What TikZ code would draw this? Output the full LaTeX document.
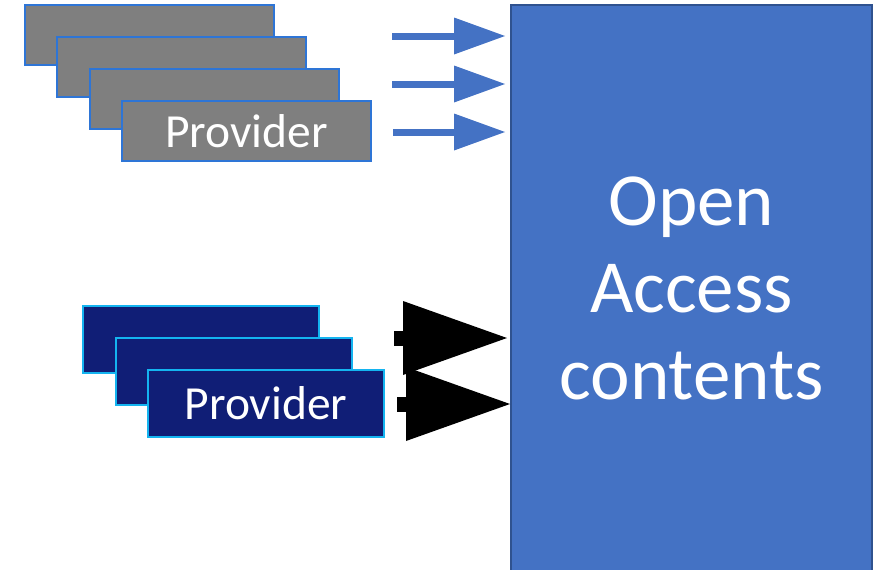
\documentclass[tikz,border=0pt]{standalone}
\usepackage{fontspec}
\setmainfont{Carlito}
\usetikzlibrary{arrows.meta}
\definecolor{grayfill}{RGB}{127,127,127}
\definecolor{grayedge}{RGB}{46,117,214}
\definecolor{navyfill}{RGB}{16,30,118}
\definecolor{navyedge}{RGB}{20,180,240}
\definecolor{bigfill}{RGB}{68,114,196}
\definecolor{bigedge}{RGB}{47,82,143}
\tikzset{
  graybox/.style={draw=grayedge, fill=grayfill, line width=2pt, minimum width=249pt, minimum height=60pt, anchor=north west, inner sep=0pt, text=white, font=\fontsize{47.5}{50}\selectfont},
  navybox/.style={draw=navyedge, fill=navyfill, line width=2pt, minimum width=236pt, minimum height=67pt, anchor=north west, inner sep=0pt, text=white, font=\fontsize{47.5}{50}\selectfont},
  bigbox/.style={draw=bigedge, fill=bigfill, line width=2pt, minimum width=361pt, minimum height=566pt, anchor=north west, inner sep=0pt, text=white, align=center, font=\fontsize{75}{87}\selectfont},
  bluearrow/.style={draw=bigfill, line width=7pt, -{Triangle[length=51pt, width=37pt, line width=0pt]}},
  blackarrow/.style={draw=black, line width=15pt, -{Triangle[length=104pt, width=74pt, line width=0pt]}}
}
\begin{document}
\begin{tikzpicture}[x=1pt, y=-1pt]
\useasboundingbox (0,0) rectangle (879,570);
% gray stack
\node[graybox] (g1) at (24,4) {};
\node[graybox] (g2) at (56,36) {};
\node[graybox] (g3) at (89,68) {};
\node[graybox] (g4) at (121,100) {\raisebox{-2pt}{Provider}};
% navy stack
\node[navybox] (n1) at (82,305) {};
\node[navybox] (n2) at (115,337) {};
\node[navybox] (n3) at (147,369) {\raisebox{-2pt}{Provider}};
% big box
\node[bigbox] (big) at (510,4) {\raisebox{-10pt}{\parbox{361pt}{\centering Open\\Access\\contents}}};
% arrow coordinates
\coordinate (a1) at (392,36);
\coordinate (a2) at (392,84);
\coordinate (a3) at (393,132);
\coordinate (b1) at (394,338);
\coordinate (b2) at (397,404);
\draw[bluearrow, shorten >=5pt] (a1) -- (a1 -| big.west);
\draw[bluearrow, shorten >=5pt] (a2) -- (a2 -| big.west);
\draw[bluearrow, shorten >=5pt] (a3) -- (a3 -| big.west);
\draw[blackarrow, shorten >=3pt] (b1) -- (b1 -| big.west);
\draw[blackarrow] (b2) -- (b2 -| big.west);
\end{tikzpicture}
\end{document}
